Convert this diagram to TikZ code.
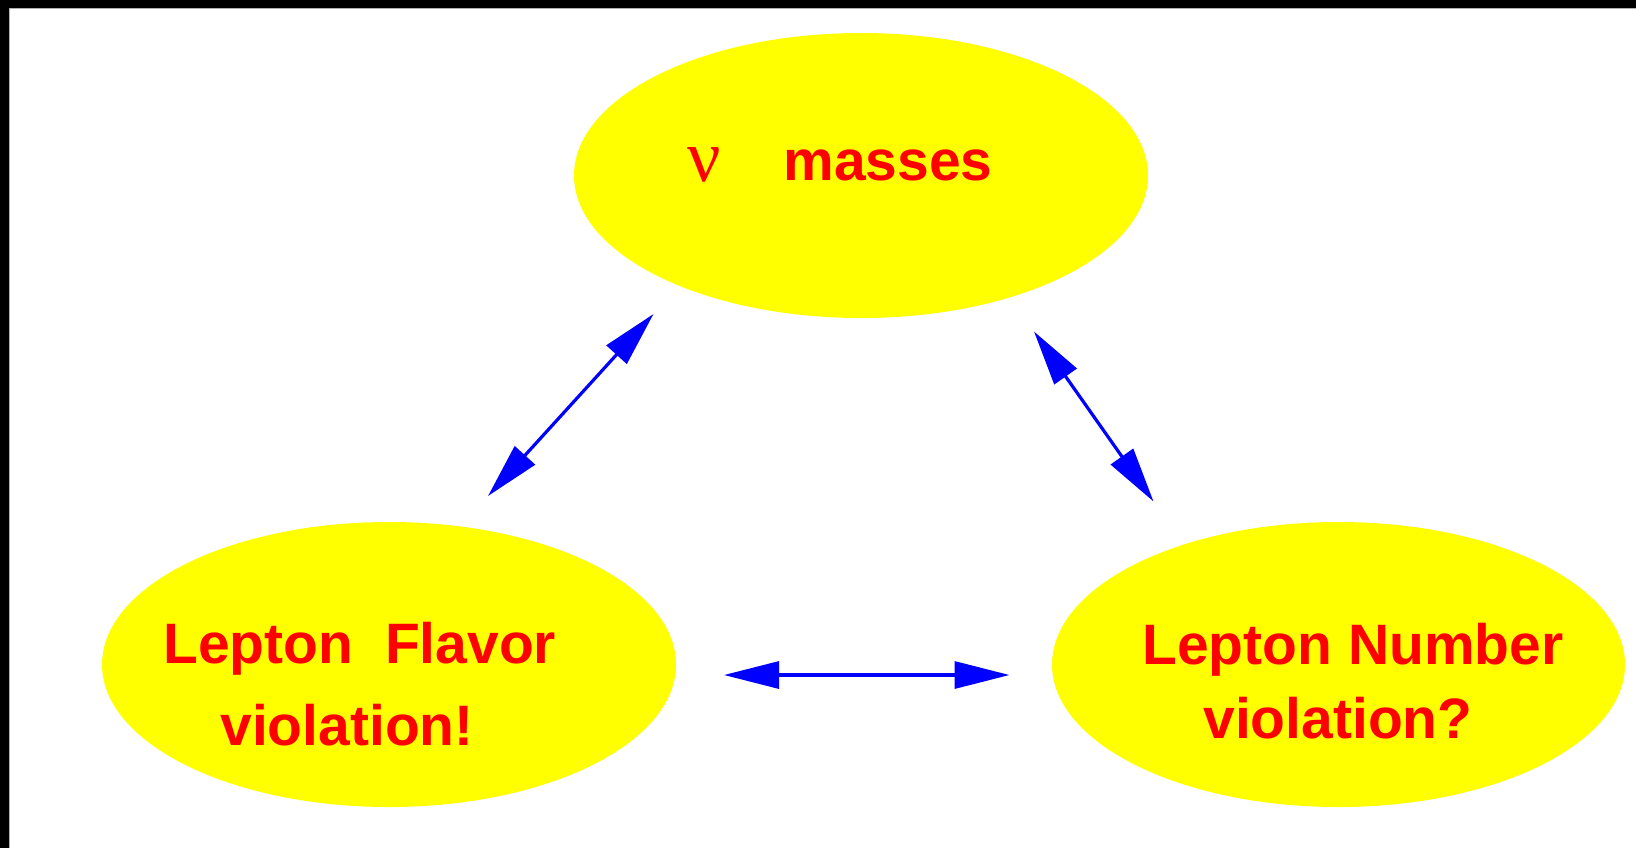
\documentclass[tikz,border=0pt]{standalone}
\usepackage{fontspec}
\setmainfont{Liberation Sans}
\newfontfamily\greekserif{Liberation Serif}
\usetikzlibrary{arrows.meta}
\definecolor{boxyellow}{RGB}{255,255,0}
\definecolor{txtred}{RGB}{255,0,0}
\definecolor{arrblue}{RGB}{0,0,255}
\begin{document}
\begin{tikzpicture}[x=0.5pt,y=-0.5pt,
  label/.style={anchor=base west, inner sep=0pt, text=txtred, font=\fontsize{28.5pt}{34pt}\selectfont\bfseries},
  link/.style={draw=arrblue, line width=1.6pt, {Triangle[length=27.5pt,width=13.5pt]}-{Triangle[length=27.5pt,width=13.5pt]}}
]
\useasboundingbox (0,0) rectangle (1636,848);
\fill[black] (0,0) rectangle (1636,848);
\fill[white] (9,8) rectangle (1636,848);
\draw[gray!60, line width=0.5pt] (9.25,848) -- (9.25,8.25) -- (1636,8.25);
% ellipses
\path[fill=boxyellow] (861,175.5) ellipse [x radius=287, y radius=142.5];
\node[inner sep=0pt] (top) at (861,175.5) {};
\path[fill=boxyellow] (389,664.5) ellipse [x radius=287, y radius=142.5];
\node[inner sep=0pt] (left) at (389,664.5) {};
\path[fill=boxyellow] (1338.5,664.5) ellipse [x radius=286.5, y radius=142.5];
\node[inner sep=0pt] (right) at (1338.5,664.5) {};
% texts
\node[label, font=\fontsize{37pt}{40pt}\selectfont\greekserif] (nu) at (687,181) {ν};
\node[label] (masses) at (783,180) {masses};
\node[label] (lf1) at (163,663) {Lepton\ \ Flavor};
\node[label] (lf2) at (220,745) {violation!};
\node[label] (ln1) at (1142,664) {Lepton Number};
\node[label] (ln2) at (1203,738) {violation?};
% arrow ends
\coordinate (a1l) at (488,496);
\coordinate (a1t) at (653.5,314);
\coordinate (a2t) at (1034,331.5);
\coordinate (a2r) at (1153.5,501.5);
\coordinate (a3l) at (724,675);
\coordinate (a3r) at (1009.5,675);
\draw[link] (a1l) -- (a1t);
\draw[link] (a2t) -- (a2r);
\draw[link] (a3l) -- (a3r);
\end{tikzpicture}
\end{document}
